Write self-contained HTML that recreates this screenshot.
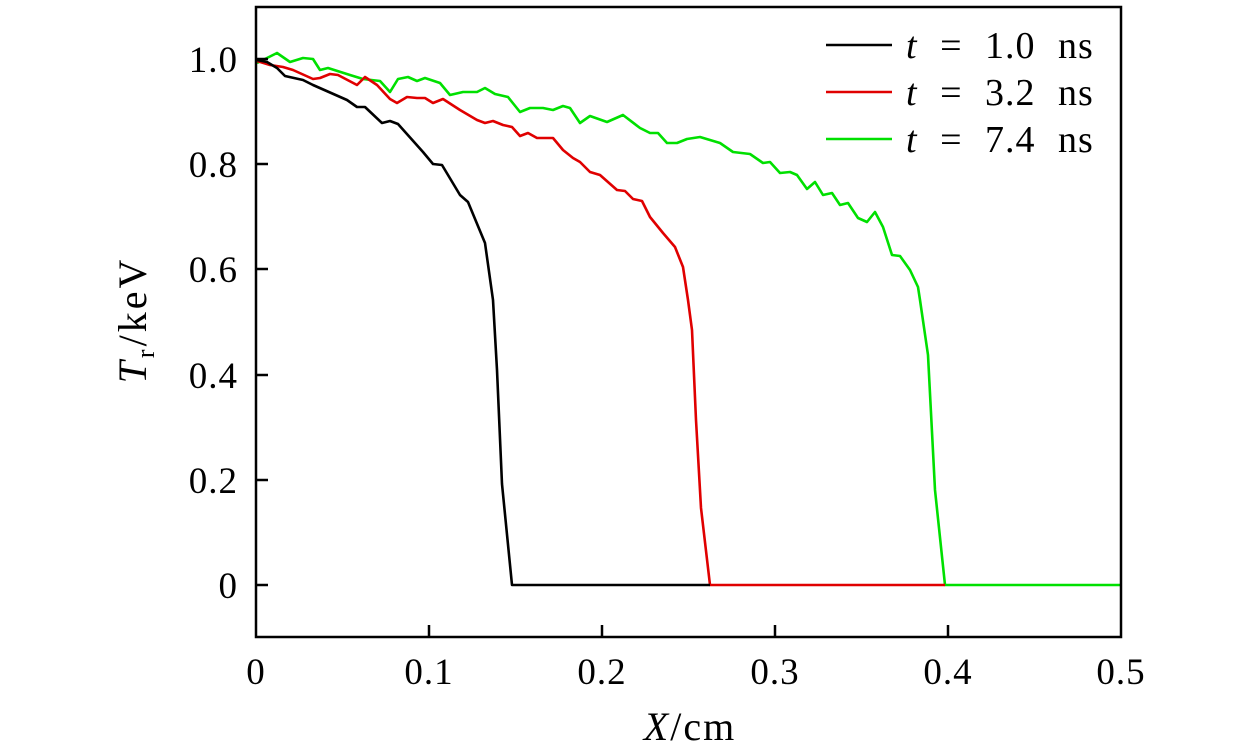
<!DOCTYPE html>
<html><head><meta charset="utf-8"><style>
html,body{margin:0;padding:0;background:#fff;}
svg{display:block;font-family:"Liberation Serif",serif;}
</style></head><body>
<svg width="1260" height="756" viewBox="0 0 1260 756" xmlns="http://www.w3.org/2000/svg">
<rect x="0" y="0" width="1260" height="756" fill="#fff"/>
<g fill="none" stroke-width="2.6" stroke-linejoin="round">
<polyline stroke="#00e000" points="257,63 277,53 290,62 303,58 313,59 320,70 328,68 350,75 363,79 380,81 390,92 398,79 408,77 417,81 425,78 440,83 450,95 463,92 477,92 485,88 495,94 508,97 520,112 530,108 543,108 553,110 563,106 570,108 580,123 590,116 607,122 623,115 640,128 650,133 658,133 667,143 677,143 687,139 700,137 720,143 733,152 750,154 763,163 770,162 780,173 790,172 797,175 807,189 815,182 823,195 832,193 840,205 848,203 858,218 867,222 875,212 883,227 892,255 900,256 910,270 918,287 920,300 928,355 935,490 945,585 1121,585"/>
<polyline stroke="#e00000" points="257,61 270,65 283,67 293,70 313,79 320,78 330,74 338,75 357,85 365,77 377,85 390,99 397,103 407,97 417,98 425,98 433,103 443,99 460,110 477,120 485,123 493,121 503,125 512,127 520,136 528,133 537,138 553,138 563,150 573,158 580,162 590,172 600,175 617,190 625,191 633,199 642,201 650,217 663,233 675,247 683,267 688,300 692,330 696,420 701,508 710,585 945,585"/>
<polyline stroke="#000" points="257,60 267,62 277,68 285,76 303,80 313,85 347,100 357,107 365,107 382,123 390,121 398,124 423,152 433,164 442,165 460,195 468,202 485,243 493,300 497,370 502,484 512,585 710,585"/>
</g>
<rect x="256" y="7" width="865" height="630" fill="none" stroke="#000" stroke-width="2.5"/>
<g stroke="#000" stroke-width="2.5">
<line x1="256" y1="585" x2="268" y2="585"/><line x1="256" y1="480" x2="268" y2="480"/>
<line x1="256" y1="375" x2="268" y2="375"/><line x1="256" y1="269" x2="268" y2="269"/>
<line x1="256" y1="164" x2="268" y2="164"/><line x1="256" y1="59" x2="268" y2="59"/>
<line x1="429" y1="637" x2="429" y2="625"/><line x1="602" y1="637" x2="602" y2="625"/>
<line x1="775" y1="637" x2="775" y2="625"/><line x1="948" y1="637" x2="948" y2="625"/>
</g>
<g font-size="37" fill="#000" text-anchor="end" letter-spacing="1">
<text x="238" y="598">0</text><text x="238" y="493">0.2</text><text x="238" y="388">0.4</text>
<text x="238" y="282">0.6</text><text x="238" y="177">0.8</text><text x="238" y="72">1.0</text>
</g>
<g font-size="37" fill="#000" text-anchor="middle" letter-spacing="1">
<text x="256" y="684">0</text><text x="429" y="684">0.1</text><text x="602" y="684">0.2</text>
<text x="775" y="684">0.3</text><text x="948" y="684">0.4</text><text x="1121" y="684">0.5</text>
<text x="690" y="740" font-size="40" letter-spacing="2"><tspan font-style="italic">X</tspan>/cm</text>
</g>
<text transform="translate(146,320) rotate(-90)" text-anchor="middle" font-size="40" letter-spacing="3" fill="#000"><tspan font-style="italic">T</tspan><tspan font-size="26" dy="8">r</tspan><tspan dy="-8">/keV</tspan></text>
<g stroke-width="2.6">
<line x1="826" y1="45" x2="892" y2="45" stroke="#000"/>
<line x1="826" y1="92" x2="892" y2="92" stroke="#e00000"/>
<line x1="826" y1="139" x2="892" y2="139" stroke="#00e000"/>
</g>
<g font-size="38" fill="#000" word-spacing="12" letter-spacing="1">
<text x="906" y="58"><tspan font-style="italic">t</tspan> = 1.0 ns</text>
<text x="906" y="105"><tspan font-style="italic">t</tspan> = 3.2 ns</text>
<text x="906" y="152"><tspan font-style="italic">t</tspan> = 7.4 ns</text>
</g>
</svg>
</body></html>
